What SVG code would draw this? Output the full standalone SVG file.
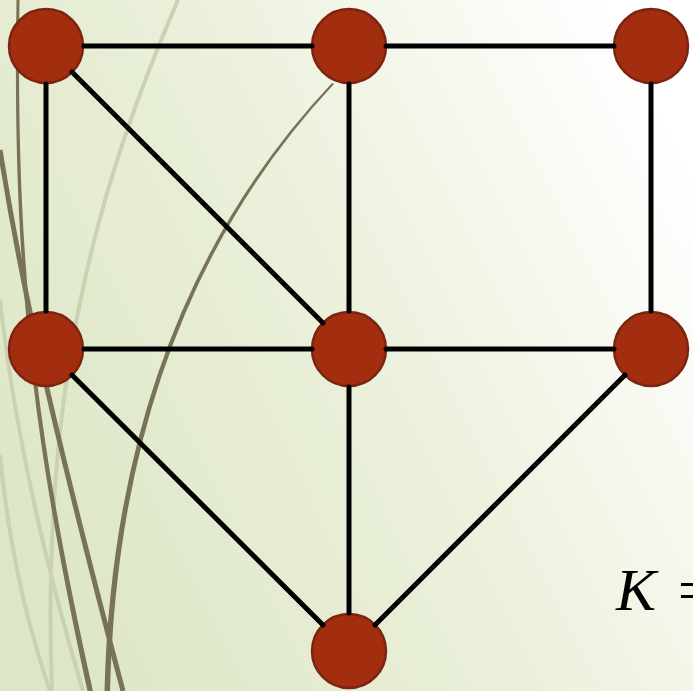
<svg xmlns="http://www.w3.org/2000/svg" width="693" height="691" viewBox="0 0 693 691">
<defs>
<linearGradient id="bg" x1="0" y1="0.75" x2="1" y2="0.25">
<stop offset="0" stop-color="#DDE6C5"/>
<stop offset="0.5" stop-color="#EAF0DA"/>
<stop offset="1" stop-color="#FFFFFF"/>
</linearGradient>
<style>
.light{fill:none;stroke:#CBD1B3;stroke-width:4}
.brown{fill:none;stroke:#7A7255;stroke-width:5}
.edge{stroke:#000;stroke-width:5;stroke-linecap:round;fill:none}
.node{fill:#A32D0F;stroke:#7C2410;stroke-width:2.5}
.lbl{font-family:"Liberation Serif","Times New Roman",serif;font-size:60px;fill:#000}
</style>
</defs>
<rect width="693" height="691" fill="url(#bg)"/>
<g id="background-curves">
<path class="light" d="M178,0 C100,180 40,380 52,691"/>
<path class="light" d="M0,300 Q20,480 83,691"/>
<path class="light" d="M0,455 Q12,580 50,691"/>
<path fill="#7A7255" d="M16.5,0 C12.5,250 28,420 87.5,691 L93,691 C32,420 16,250 19.5,0 Z"/>
<path class="brown" d="M0,150 C15,240 30,340 123,691"/>
<path fill="#7A7255" d="M332,83 Q114,314 104.5,691 L110,691 Q119,314 334,84 Z"/>
</g>
<g id="nodes">
<g id="n1"><circle class="node" cx="46" cy="46" r="37"/></g>
<g id="n2"><circle class="node" cx="349" cy="46" r="37"/></g>
<g id="n3"><circle class="node" cx="651" cy="46" r="37"/></g>
<g id="n4"><circle class="node" cx="46" cy="349" r="37"/></g>
<g id="n5"><circle class="node" cx="349" cy="349" r="37"/></g>
<g id="n6"><circle class="node" cx="651" cy="349" r="37"/></g>
<g id="n7"><circle class="node" cx="349" cy="651" r="37"/></g>
</g>
<g id="connectors">
<line class="edge" x1="84" y1="46" x2="312" y2="46"/>
<line class="edge" x1="386" y1="46" x2="614" y2="46"/>
<line class="edge" x1="46" y1="84" x2="46" y2="311"/>
<line class="edge" x1="72" y1="72" x2="323" y2="323"/>
<line class="edge" x1="349" y1="84" x2="349" y2="311"/>
<line class="edge" x1="651" y1="84" x2="651" y2="311"/>
<line class="edge" x1="84" y1="349" x2="312" y2="349"/>
<line class="edge" x1="386" y1="349" x2="614" y2="349"/>
<line class="edge" x1="72" y1="375" x2="323" y2="625"/>
<line class="edge" x1="349" y1="387" x2="349" y2="613"/>
<line class="edge" x1="625" y1="375" x2="375" y2="625"/>
</g>
<text class="lbl" x="616" y="610"><tspan font-style="italic">K</tspan><tspan x="678">=</tspan></text>
</svg>
